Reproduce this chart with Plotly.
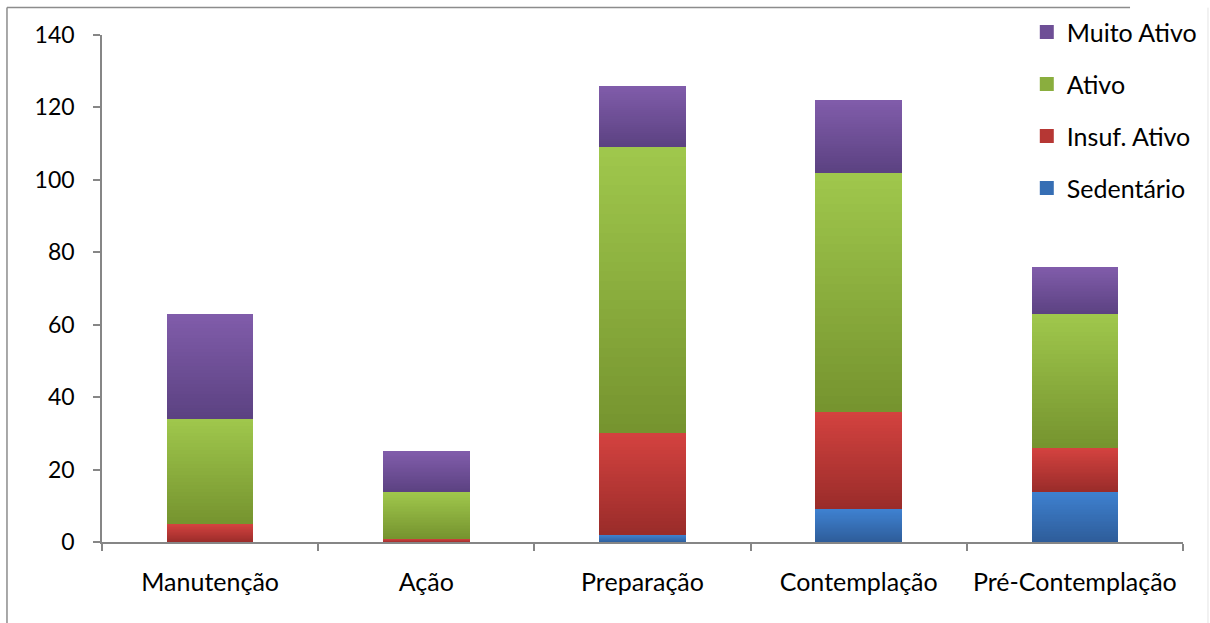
import plotly.graph_objects as go

# Stages of change and physical activity level counts
categories = ["Manutenção", "Ação", "Preparação", "Contemplação", "Pré-Contemplação"]
sedentario = [0, 0, 2, 9, 14]
insuf_ativo = [5, 1, 28, 27, 12]
ativo = [29, 13, 79, 66, 37]
muito_ativo = [29, 11, 17, 20, 13]

series_names = ["Sedentário", "Insuf. Ativo", "Ativo", "Muito Ativo"]
series_values = [sedentario, insuf_ativo, ativo, muito_ativo]

# (bottom colour, top colour) for the vertical gradient of each segment
gradients = [
    ((0x2E, 0x5D, 0x9A), (0x3E, 0x80, 0xCF)),
    ((0x9A, 0x2C, 0x2A), (0xD3, 0x42, 0x3F)),
    ((0x76, 0x94, 0x2F), (0x9F, 0xC7, 0x4C)),
    ((0x5C, 0x42, 0x82), (0x80, 0x5C, 0xAA)),
]

N_BANDS = 30


def mix(c0, c1, t):
    return "rgb({},{},{})".format(*[round(a + (b - a) * t) for a, b in zip(c0, c1)])


fig = go.Figure()
n_series = len(series_names)
for i, (name, values, (c_bot, c_top)) in enumerate(zip(series_names, series_values, gradients)):
    rank = n_series - i  # top series listed first in the legend
    for k in range(N_BANDS):
        t = k / (N_BANDS - 1)
        fig.add_trace(go.Bar(
            x=categories,
            y=[v / N_BANDS for v in values],
            customdata=values,
            name=name,
            legendgroup=name,
            legendrank=rank,
            showlegend=False,
            marker=dict(color=mix(c_bot, c_top, t), line=dict(width=0)),
            hovertemplate="%{x}<br>" + name + ": %{customdata}<extra></extra>",
        ))
    # legend entry: empty bar trace with a thicker swatch
    mid = mix(c_bot, c_top, 0.5)
    fig.add_trace(go.Bar(
        x=categories,
        y=[None] * len(categories),
        name=name,
        legendgroup=name,
        legendrank=rank,
        showlegend=True,
        marker=dict(color=mid, line=dict(width=2, color=mid)),
        hoverinfo="skip",
    ))

axis_color = "#868686"
font_family = "Lato, 'Open Sans', sans-serif"

fig.update_layout(
    width=1210,
    height=623,
    barmode="stack",
    bargap=0.6,
    plot_bgcolor="white",
    paper_bgcolor="white",
    margin=dict(l=102, r=27, t=35, b=81, autoexpand=False),
    font=dict(family=font_family, size=25, color="black"),
    legend=dict(
        x=0.8555, y=1.051, xanchor="left", yanchor="top",
        traceorder="grouped",
        tracegroupgap=16.5,
        font=dict(size=25, color="black"),
        bgcolor="rgba(0,0,0,0)",
        itemwidth=30,
    ),
    xaxis=dict(
        type="category",
        range=[-0.5, 4.5],
        tickson="boundaries",
        ticks="outside",
        ticklen=7,
        tickwidth=1.5,
        tickcolor=axis_color,
        showline=True,
        linecolor=axis_color,
        linewidth=1.5,
        showgrid=False,
        automargin=False,
        tickfont=dict(size=25),
        ticklabelstandoff=17,
    ),
    yaxis=dict(
        range=[0, 140],
        dtick=20,
        ticks="outside",
        ticklen=7,
        tickwidth=1.5,
        tickcolor=axis_color,
        showline=True,
        linecolor=axis_color,
        linewidth=1.5,
        showgrid=False,
        zeroline=False,
        automargin=False,
        tickfont=dict(size=23),
        ticklabelstandoff=14,
    ),
    shapes=[
        dict(type="line", xref="paper", yref="paper", x0=-0.0879, x1=-0.0879, y0=-0.2, y1=1.054,
             line=dict(color="#8C8C8C", width=1.5)),
        dict(type="line", xref="paper", yref="paper", x0=-0.0879, x1=0.951, y0=1.054, y1=1.054,
             line=dict(color="#8C8C8C", width=1.5)),
        dict(type="line", xref="paper", yref="paper", x0=1.0231, x1=1.0231, y0=-0.2, y1=1.054,
             line=dict(color="#E4E4E4", width=1)),
    ],
)

fig.write_html("out.html")
